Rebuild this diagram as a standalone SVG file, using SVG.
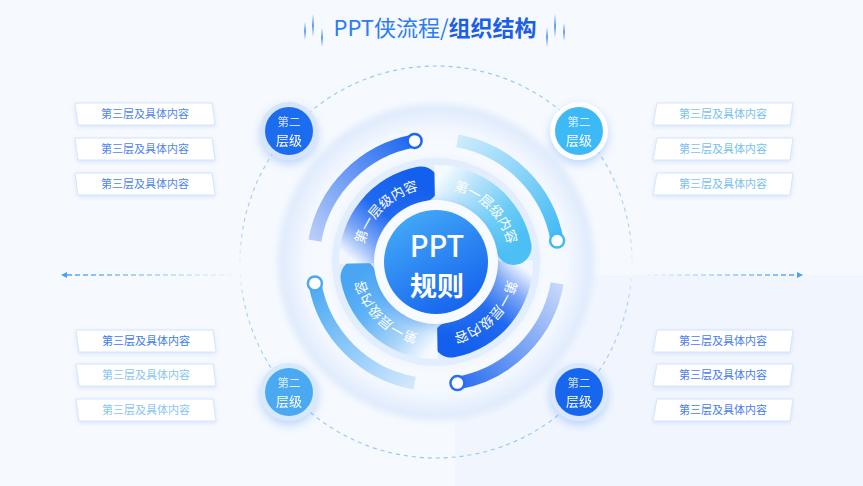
<svg xmlns="http://www.w3.org/2000/svg" width="863" height="486" viewBox="0 0 863 486">
<defs>
<style>
.f{font-family:'Noto Sans CJK SC','Noto Sans',sans-serif}
.box{fill:#fff;stroke:#d5e4fb;stroke-width:1;filter:url(#sh)}
.bt{font-size:11px;text-anchor:middle}
.pt{font-size:13.5px;fill:#fff}
.dot{fill:#fff;stroke-width:2.5}
.tl{fill:url(#lineG)}
.b1{font-size:11.5px;fill:#fff;fill-opacity:.8;text-anchor:middle}
.b2{font-size:13px;fill:#fff;text-anchor:middle}
</style>
<filter id="sh" x="-20%" y="-50%" width="140%" height="200%"><feDropShadow dx="0" dy="1.5" stdDeviation="2" flood-color="#9fc1f3" flood-opacity=".35"/></filter>
<filter id="glow" x="-60%" y="-60%" width="220%" height="220%"><feDropShadow dx="0" dy="4" stdDeviation="5" flood-color="#4f93f3" flood-opacity=".35"/></filter>
<filter id="cglow" x="-40%" y="-40%" width="180%" height="180%"><feDropShadow dx="0" dy="3" stdDeviation="6" flood-color="#3f86f0" flood-opacity=".35"/></filter>
<filter id="blur3" x="-20%" y="-20%" width="140%" height="140%"><feGaussianBlur stdDeviation="3"/></filter>
<linearGradient id="lineG" x1="0" y1="0" x2="0" y2="1"><stop offset="0" stop-color="#3a86f2" stop-opacity="0"/><stop offset=".5" stop-color="#3a86f2"/><stop offset="1" stop-color="#3a86f2" stop-opacity="0"/></linearGradient>
<radialGradient id="disc" cx="436" cy="262" r="158" gradientUnits="userSpaceOnUse">
<stop offset="0" stop-color="#eaf2fe"/><stop offset=".6" stop-color="#e8f1fe"/><stop offset=".7" stop-color="#f7faff"/><stop offset=".83" stop-color="#f4f8ff"/><stop offset=".95" stop-color="#e4eefd"/><stop offset="1" stop-color="#dae7fb"/></radialGradient>
<linearGradient id="cc" x1="0" y1="0" x2=".6" y2="1"><stop offset="0" stop-color="#48b2f8"/><stop offset="1" stop-color="#1866ee"/></linearGradient>
<linearGradient id="dashG" x1="0" y1="66" x2="0" y2="458" gradientUnits="userSpaceOnUse"><stop offset="0" stop-color="#7fbcf3" stop-opacity=".8"/><stop offset=".42" stop-color="#7fbcf3" stop-opacity=".6"/><stop offset=".52" stop-color="#7fbcf3" stop-opacity="0"/><stop offset=".6" stop-color="#7fbcf3" stop-opacity=".6"/><stop offset="1" stop-color="#7fbcf3" stop-opacity=".8"/></linearGradient>
<linearGradient id="arL" x1="240" y1="0" x2="66" y2="0" gradientUnits="userSpaceOnUse"><stop offset="0" stop-color="#5aaaf2" stop-opacity="0"/><stop offset="1" stop-color="#4aa2f0"/></linearGradient>
<linearGradient id="arR" x1="637" y1="0" x2="800" y2="0" gradientUnits="userSpaceOnUse"><stop offset="0" stop-color="#5aaaf2" stop-opacity="0"/><stop offset="1" stop-color="#4aa2f0"/></linearGradient>
<linearGradient id="pD" x1="515" y1="260.62" x2="451.07" y2="339.55" gradientUnits="userSpaceOnUse"><stop offset="0" stop-color="#f2f6ff"/><stop offset=".25" stop-color="#7ea8f6"/><stop offset=".55" stop-color="#2069f0"/><stop offset="1" stop-color="#1460ee"/></linearGradient>
<linearGradient id="pC" x1="515" y1="260.62" x2="451.07" y2="339.55" gradientUnits="userSpaceOnUse"><stop offset="0" stop-color="#f4fbff"/><stop offset=".3" stop-color="#b8e3fa"/><stop offset=".7" stop-color="#6ccdf6"/><stop offset="1" stop-color="#4cc0f4"/></linearGradient>
<linearGradient id="pL" x1="515" y1="260.62" x2="451.07" y2="339.55" gradientUnits="userSpaceOnUse"><stop offset="0" stop-color="#f4f9ff"/><stop offset=".3" stop-color="#aad4f8"/><stop offset=".7" stop-color="#62b4f6"/><stop offset="1" stop-color="#4aa6f3"/></linearGradient>
<linearGradient id="aBR" x1="557.13" y1="283.36" x2="457.36" y2="383.13" gradientUnits="userSpaceOnUse"><stop offset="0" stop-color="#c6d7fa"/><stop offset="1" stop-color="#2b6ff0"/></linearGradient>
<linearGradient id="aBL" x1="557.13" y1="283.36" x2="457.36" y2="383.13" gradientUnits="userSpaceOnUse"><stop offset="0" stop-color="#d2e8fc"/><stop offset="1" stop-color="#4ba9f4"/></linearGradient>
<linearGradient id="aTL" x1="557.13" y1="283.36" x2="457.36" y2="383.13" gradientUnits="userSpaceOnUse"><stop offset="0" stop-color="#b9cdf8"/><stop offset="1" stop-color="#1c68f0"/></linearGradient>
<linearGradient id="aTR" x1="557.13" y1="283.36" x2="457.36" y2="383.13" gradientUnits="userSpaceOnUse"><stop offset="0" stop-color="#cdebfc"/><stop offset="1" stop-color="#3fbaf4"/></linearGradient>
<path id="petal" d="M532.99 260.31 A97 97 0 0 1 454.51 357.22 A18 18 0 0 1 447.64 321.88 A61 61 0 0 0 496.99 260.94 Z"/>
<path id="arc" d="M557.13 283.36 A123 123 0 0 1 457.36 383.13" fill="none" stroke-width="13"/>
<path id="tp" d="M507.48 242.85 A74 74 0 0 1 416.85 333.48" fill="none"/>
</defs>

<rect width="863" height="486" fill="#f6f9fe"/>
<rect x="455" y="275" width="408" height="211" fill="#f1f6fe"/>

<g id="title">
<rect class="tl" x="304.2" y="22" width="1.6" height="18"/>
<rect class="tl" x="312.2" y="14" width="1.6" height="23"/>
<rect class="tl" x="321.2" y="28" width="1.6" height="19"/>
<rect class="tl" x="546.2" y="27" width="1.6" height="20"/>
<rect class="tl" x="554.2" y="14" width="1.6" height="24"/>
<rect class="tl" x="563.2" y="23" width="1.6" height="18"/>
<text class="f" x="435" y="36" font-size="22" text-anchor="middle"><tspan fill="#2c7cf2">PPT侠流程/</tspan><tspan fill="#1b5fe6" font-weight="700">组织结构</tspan></text>
</g>

<g id="connectors">
<circle cx="436" cy="262" r="196" fill="none" stroke="url(#dashG)" stroke-width="1.2" stroke-dasharray="4 4"/>
<line x1="240" y1="275" x2="66" y2="275" stroke="url(#arL)" stroke-width="1.6" stroke-dasharray="5 3"/>
<path d="M61 275 L67 272 L67 278 Z" fill="#4aa2f0"/>
<line x1="637" y1="275" x2="798" y2="275" stroke="url(#arR)" stroke-width="1.6" stroke-dasharray="5 3"/>
<path d="M803 275 L797 272 L797 278 Z" fill="#4aa2f0"/>
</g>

<g id="core">
<circle cx="436" cy="262" r="158" fill="url(#disc)" filter="url(#blur3)"/>
<circle cx="436" cy="262" r="104" fill="#e2edfd"/>
<use href="#arc" stroke="url(#aBR)"/>
<use href="#arc" stroke="url(#aBL)" transform="rotate(90 436 262)"/>
<use href="#arc" stroke="url(#aTL)" transform="rotate(180 436 262)"/>
<use href="#arc" stroke="url(#aTR)" transform="rotate(270 436 262)"/>
<circle class="dot" cx="457.4" cy="383.1" r="7" stroke="#2b6ff0"/>
<circle class="dot" cx="314.9" cy="283.4" r="7" stroke="#4ba9f4"/>
<circle class="dot" cx="414.6" cy="140.9" r="7" stroke="#1c68f0"/>
<circle class="dot" cx="557.1" cy="240.6" r="7" stroke="#3fbaf4"/>
</g>

<g id="petal-br"><use href="#petal" fill="url(#pD)"/>
<text class="f pt"><textPath href="#tp" startOffset="50%" text-anchor="middle">第一层级内容</textPath></text></g>
<g id="petal-bl" transform="rotate(90 436 262)"><use href="#petal" fill="url(#pL)"/>
<text class="f pt"><textPath href="#tp" startOffset="50%" text-anchor="middle">第一层级内容</textPath></text></g>
<g id="petal-tl" transform="rotate(180 436 262)"><use href="#petal" fill="url(#pD)"/>
<text class="f pt"><textPath href="#tp" startOffset="50%" text-anchor="middle">第一层级内容</textPath></text></g>
<g id="petal-tr" transform="rotate(270 436 262)"><use href="#petal" fill="url(#pC)"/>
<text class="f pt"><textPath href="#tp" startOffset="50%" text-anchor="middle">第一层级内容</textPath></text></g>

<g id="center">
<circle cx="436" cy="262" r="62" fill="#f7faff" filter="url(#cglow)"/>
<circle cx="436" cy="262" r="52" fill="url(#cc)"/>
<text class="f" x="437" y="256.5" font-size="29" font-weight="500" fill="#fff" text-anchor="middle">PPT</text>
<text class="f" x="437" y="296" font-size="27" font-weight="700" fill="#fff" text-anchor="middle">规则</text>
</g>

<g id="badge-tl" filter="url(#glow)"><circle cx="289" cy="131" r="29" fill="#d6e5fc"/><circle cx="289" cy="131" r="24" fill="#1c6cf0"/>
<text class="f b1" x="289" y="125.5">第二</text><text class="f b2" x="289" y="145">层级</text></g>
<g id="badge-tr" filter="url(#glow)"><circle cx="579" cy="131" r="29" fill="#ffffff"/><circle cx="579" cy="131" r="24" fill="#3dbaf5"/>
<text class="f b1" x="579" y="125.5">第二</text><text class="f b2" x="579" y="145">层级</text></g>
<g id="badge-bl" filter="url(#glow)"><circle cx="289" cy="392" r="29" fill="#d9e9fc"/><circle cx="289" cy="392" r="24" fill="#4ca9f2"/>
<text class="f b1" x="289" y="386.5">第二</text><text class="f b2" x="289" y="406">层级</text></g>
<g id="badge-br" filter="url(#glow)"><circle cx="579" cy="392" r="29" fill="#dbe7fc"/><circle cx="579" cy="392" r="24" fill="#1866ee"/>
<text class="f b1" x="579" y="386.5">第二</text><text class="f b2" x="579" y="406">层级</text></g>

<g id="boxes-tl">
<polygon class="box" points="75,103 212,103 215,125 78,125"/><text class="f bt" x="145" y="118.2" fill="#4f86ec">第三层及具体内容</text>
<polygon class="box" points="75,138 212,138 215,160 78,160"/><text class="f bt" x="145" y="153.2" fill="#4f86ec">第三层及具体内容</text>
<polygon class="box" points="75,173 212,173 215,195 78,195"/><text class="f bt" x="145" y="188.2" fill="#4f86ec">第三层及具体内容</text>
</g>
<g id="boxes-tr">
<polygon class="box" points="657,103 793,103 790,125 653,125"/><text class="f bt" x="723" y="118.2" fill="#78c2f0">第三层及具体内容</text>
<polygon class="box" points="657,138 793,138 790,160 653,160"/><text class="f bt" x="723" y="153.2" fill="#78c2f0">第三层及具体内容</text>
<polygon class="box" points="657,173 793,173 790,195 653,195"/><text class="f bt" x="723" y="188.2" fill="#78c2f0">第三层及具体内容</text>
</g>
<g id="boxes-bl">
<polygon class="box" points="76,330 213,330 216,352 79,352"/><text class="f bt" x="146" y="345.2" fill="#3e7de6">第三层及具体内容</text>
<polygon class="box" points="76,364 213,364 216,386 79,386"/><text class="f bt" x="146" y="379.2" fill="#8cc5f3">第三层及具体内容</text>
<polygon class="box" points="76,399 213,399 216,421 79,421"/><text class="f bt" x="146" y="414.2" fill="#8cc5f3">第三层及具体内容</text>
</g>
<g id="boxes-br">
<polygon class="box" points="657,330 793,330 790,352 653,352"/><text class="f bt" x="723" y="345.2" fill="#4a80ea">第三层及具体内容</text>
<polygon class="box" points="657,364 793,364 790,386 653,386"/><text class="f bt" x="723" y="379.2" fill="#4a80ea">第三层及具体内容</text>
<polygon class="box" points="657,399 793,399 790,421 653,421"/><text class="f bt" x="723" y="414.2" fill="#4a80ea">第三层及具体内容</text>
</g>
</svg>
